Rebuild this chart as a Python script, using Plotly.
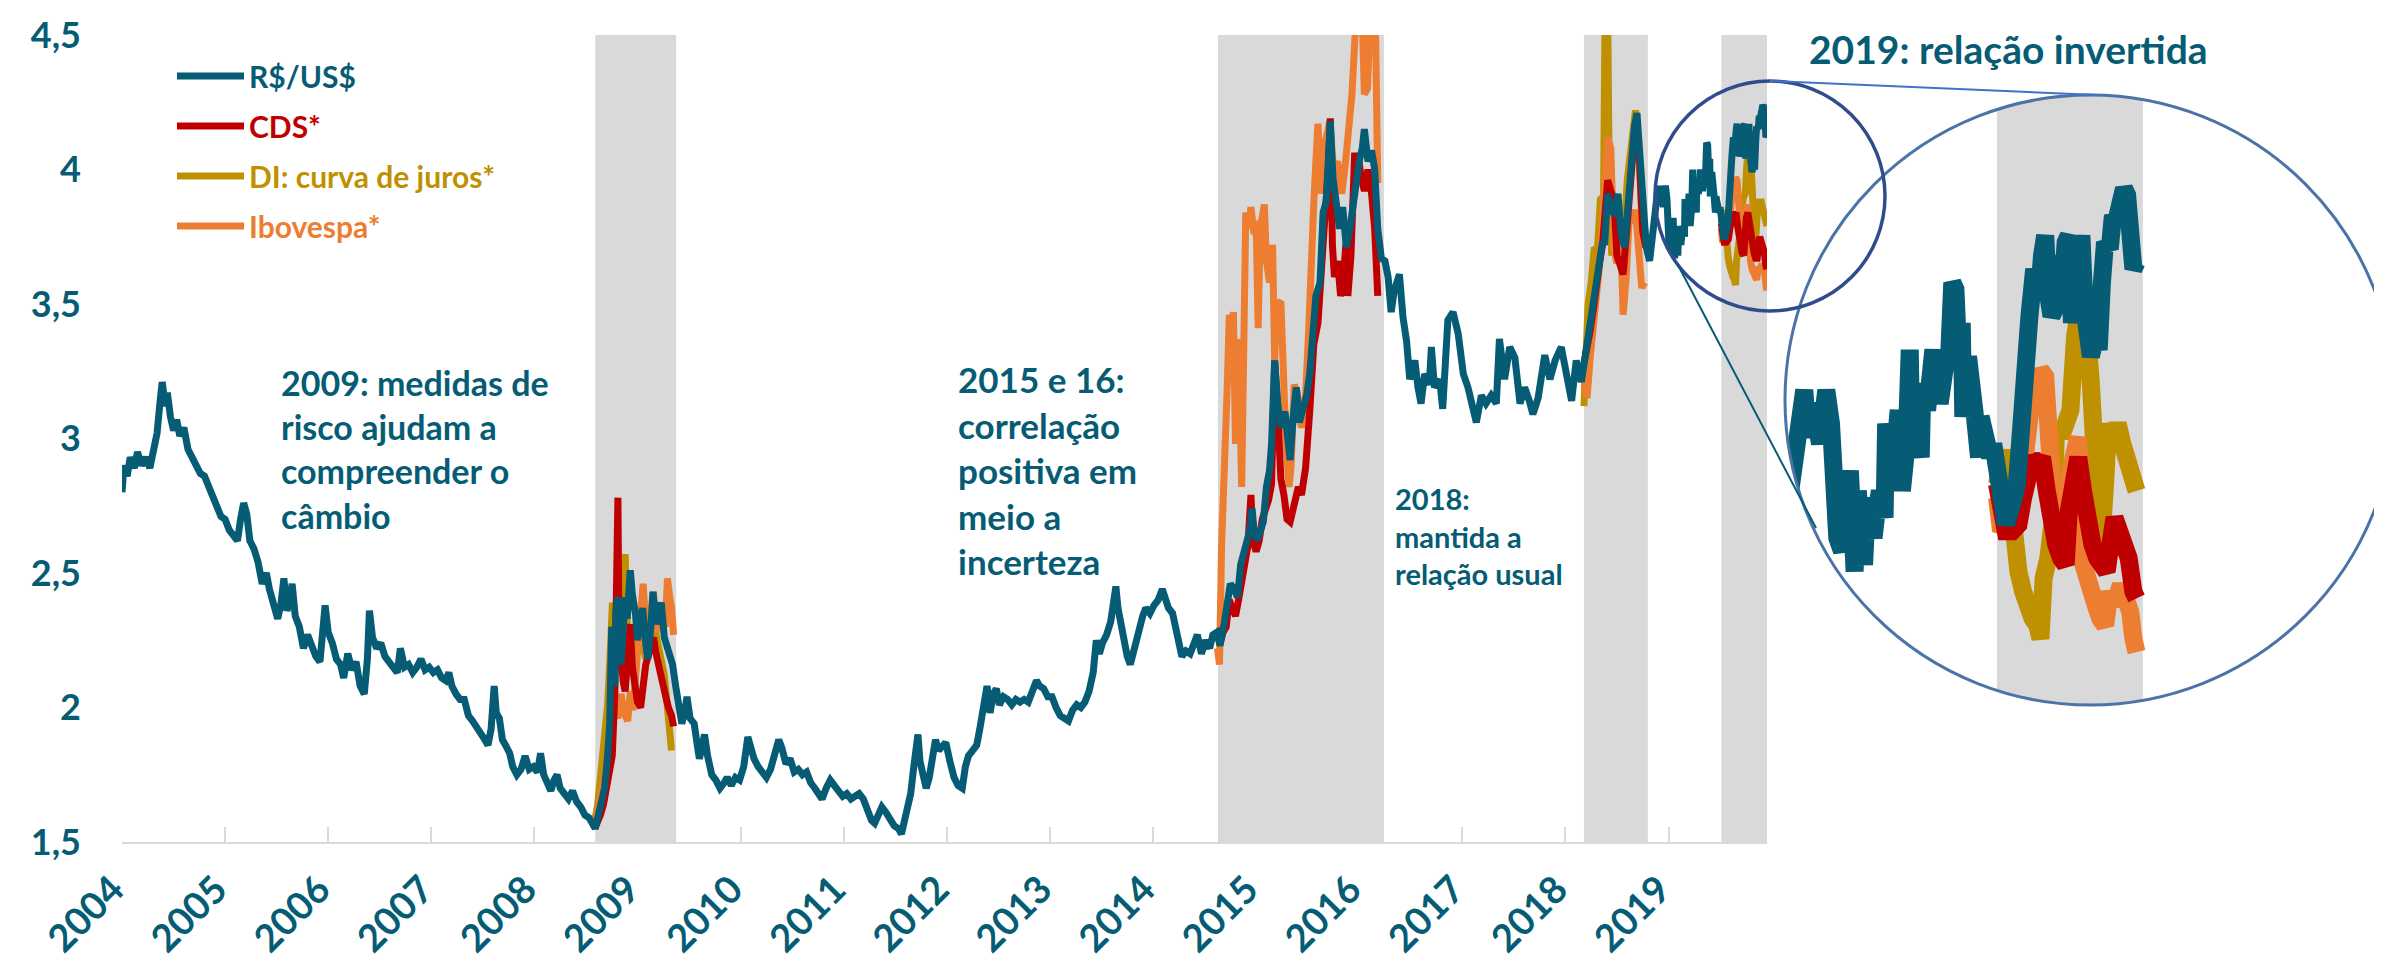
import numpy as np
import plotly.graph_objects as go

W, H = 2382, 967
TEAL = "#055c74"
RED = "#c00000"
GOLD = "#bf9000"
ORANGE = "#ed7d31"
BAND = "#d9d9d9"
FONT = "Lato"

# ---------------- data (decimal year, value) ----------------
usd = [
    (2004.00, 2.80), (2004.02, 2.90), (2004.05, 2.86), (2004.08, 2.93), (2004.12, 2.89), (2004.15, 2.95),
    (2004.19, 2.90), (2004.23, 2.93), (2004.27, 2.89), (2004.31, 2.96), (2004.34, 3.02), (2004.37, 3.14),
    (2004.39, 3.21), (2004.42, 3.12), (2004.44, 3.17), (2004.47, 3.08), (2004.50, 3.03), (2004.53, 3.07),
    (2004.56, 3.01), (2004.60, 3.04), (2004.64, 2.96), (2004.68, 2.93), (2004.72, 2.90), (2004.76, 2.87),
    (2004.80, 2.86), (2004.84, 2.82), (2004.88, 2.79), (2004.92, 2.74), (2004.96, 2.71),
    (2005.00, 2.70), (2005.04, 2.66), (2005.08, 2.64), (2005.12, 2.62), (2005.15, 2.70), (2005.18, 2.76),
    (2005.21, 2.72), (2005.24, 2.62), (2005.28, 2.59), (2005.32, 2.54), (2005.36, 2.46), (2005.40, 2.50),
    (2005.43, 2.44), (2005.47, 2.38), (2005.51, 2.33), (2005.54, 2.38), (2005.57, 2.48), (2005.60, 2.36),
    (2005.63, 2.40), (2005.65, 2.46), (2005.68, 2.34), (2005.72, 2.30), (2005.76, 2.22), (2005.80, 2.27),
    (2005.84, 2.23), (2005.88, 2.19), (2005.92, 2.17), (2005.95, 2.28), (2005.97, 2.38),
    (2006.00, 2.28), (2006.04, 2.24), (2006.08, 2.18), (2006.12, 2.16), (2006.15, 2.11), (2006.19, 2.20),
    (2006.23, 2.14), (2006.27, 2.17), (2006.31, 2.08), (2006.35, 2.05), (2006.38, 2.18), (2006.40, 2.36),
    (2006.43, 2.26), (2006.47, 2.22), (2006.51, 2.24), (2006.55, 2.19), (2006.59, 2.17), (2006.63, 2.15),
    (2006.67, 2.13), (2006.70, 2.22), (2006.74, 2.15), (2006.78, 2.16), (2006.82, 2.13), (2006.86, 2.15),
    (2006.90, 2.18), (2006.94, 2.14), (2006.98, 2.15),
    (2007.02, 2.13), (2007.06, 2.14), (2007.10, 2.11), (2007.14, 2.10), (2007.17, 2.13), (2007.20, 2.08),
    (2007.24, 2.05), (2007.28, 2.03), (2007.32, 2.03), (2007.36, 1.97), (2007.40, 1.95), (2007.44, 1.93),
    (2007.48, 1.90), (2007.52, 1.88), (2007.55, 1.86), (2007.58, 1.92), (2007.61, 2.08), (2007.63, 1.98),
    (2007.66, 1.96), (2007.69, 1.88), (2007.72, 1.86), (2007.76, 1.83), (2007.79, 1.78), (2007.83, 1.75),
    (2007.87, 1.77), (2007.91, 1.82), (2007.95, 1.77),
    (2007.99, 1.78), (2008.03, 1.76), (2008.06, 1.83), (2008.09, 1.75), (2008.12, 1.72), (2008.16, 1.69),
    (2008.19, 1.73), (2008.22, 1.75), (2008.25, 1.70), (2008.29, 1.68), (2008.33, 1.66), (2008.37, 1.69),
    (2008.41, 1.65), (2008.45, 1.63), (2008.49, 1.60), (2008.53, 1.59), (2008.57, 1.57), (2008.59, 1.55),
    (2008.62, 1.60), (2008.65, 1.64), (2008.68, 1.70), (2008.71, 1.82), (2008.73, 1.94), (2008.75, 2.30),
    (2008.76, 2.10), (2008.78, 2.08), (2008.79, 2.36), (2008.81, 2.41), (2008.82, 2.20), (2008.84, 2.16),
    (2008.86, 2.28), (2008.88, 2.41), (2008.90, 2.33), (2008.93, 2.51), (2008.95, 2.42), (2008.98, 2.35),
    (2009.00, 2.25), (2009.03, 2.32), (2009.05, 2.37), (2009.08, 2.24), (2009.10, 2.18), (2009.13, 2.30),
    (2009.15, 2.43), (2009.18, 2.31), (2009.21, 2.35), (2009.23, 2.39), (2009.26, 2.26), (2009.28, 2.23),
    (2009.31, 2.19), (2009.34, 2.16), (2009.37, 2.08), (2009.40, 2.02), (2009.43, 1.94), (2009.46, 1.99),
    (2009.48, 2.04), (2009.51, 1.96), (2009.55, 1.94), (2009.58, 1.86), (2009.60, 1.81), (2009.63, 1.86),
    (2009.65, 1.90), (2009.68, 1.82), (2009.72, 1.75), (2009.76, 1.73), (2009.80, 1.70), (2009.84, 1.72),
    (2009.87, 1.74), (2009.91, 1.71), (2009.95, 1.74),
    (2009.99, 1.73), (2010.03, 1.78), (2010.07, 1.89), (2010.10, 1.84), (2010.13, 1.81), (2010.17, 1.78),
    (2010.21, 1.76), (2010.25, 1.74), (2010.29, 1.77), (2010.33, 1.82), (2010.37, 1.88), (2010.40, 1.85),
    (2010.44, 1.79), (2010.48, 1.81), (2010.52, 1.76), (2010.56, 1.77), (2010.60, 1.75), (2010.64, 1.76),
    (2010.68, 1.72), (2010.72, 1.70), (2010.76, 1.67), (2010.79, 1.66), (2010.83, 1.70), (2010.87, 1.73),
    (2010.91, 1.71), (2010.95, 1.69),
    (2010.99, 1.67), (2011.03, 1.68), (2011.07, 1.66), (2011.11, 1.67), (2011.15, 1.68), (2011.19, 1.66),
    (2011.23, 1.62), (2011.27, 1.58), (2011.30, 1.57), (2011.34, 1.61), (2011.37, 1.63), (2011.41, 1.61),
    (2011.45, 1.58), (2011.49, 1.56), (2011.53, 1.55), (2011.56, 1.53), (2011.59, 1.58), (2011.62, 1.62),
    (2011.65, 1.68), (2011.68, 1.78), (2011.71, 1.86), (2011.72, 1.90), (2011.74, 1.80), (2011.77, 1.76),
    (2011.80, 1.70), (2011.83, 1.74), (2011.86, 1.80), (2011.89, 1.88), (2011.92, 1.84), (2011.96, 1.86),
    (2011.99, 1.87), (2012.03, 1.80), (2012.07, 1.74), (2012.11, 1.71), (2012.15, 1.70), (2012.18, 1.78),
    (2012.21, 1.82), (2012.25, 1.84), (2012.29, 1.86), (2012.32, 1.92), (2012.36, 2.02), (2012.39, 2.08),
    (2012.42, 1.98), (2012.45, 2.05), (2012.48, 2.07), (2012.51, 2.01), (2012.55, 2.04), (2012.59, 2.03),
    (2012.63, 2.01), (2012.67, 2.03), (2012.71, 2.02), (2012.75, 2.03), (2012.79, 2.02), (2012.83, 2.06),
    (2012.87, 2.10), (2012.90, 2.08), (2012.94, 2.07), (2012.98, 2.04),
    (2013.02, 2.04), (2013.06, 2.00), (2013.10, 1.97), (2013.14, 1.96), (2013.18, 1.95), (2013.22, 1.99),
    (2013.26, 2.01), (2013.30, 2.00), (2013.34, 2.02), (2013.38, 2.06), (2013.42, 2.13), (2013.45, 2.25),
    (2013.48, 2.20), (2013.51, 2.24), (2013.55, 2.27), (2013.59, 2.32), (2013.62, 2.40), (2013.64, 2.45),
    (2013.66, 2.37), (2013.69, 2.30), (2013.72, 2.23), (2013.75, 2.19), (2013.78, 2.16), (2013.81, 2.21),
    (2013.84, 2.26), (2013.87, 2.31), (2013.90, 2.34), (2013.93, 2.37), (2013.97, 2.35),
    (2014.01, 2.38), (2014.05, 2.40), (2014.09, 2.44), (2014.12, 2.41), (2014.15, 2.37), (2014.19, 2.35),
    (2014.22, 2.29), (2014.25, 2.23), (2014.28, 2.19), (2014.32, 2.21), (2014.36, 2.20), (2014.40, 2.24),
    (2014.43, 2.27), (2014.47, 2.20), (2014.51, 2.25), (2014.55, 2.22), (2014.58, 2.27), (2014.62, 2.28),
    (2014.65, 2.23), (2014.69, 2.31), (2014.72, 2.38), (2014.75, 2.46), (2014.79, 2.44), (2014.82, 2.41),
    (2014.85, 2.53), (2014.88, 2.58), (2014.91, 2.61), (2014.94, 2.66), (2014.96, 2.74), (2014.98, 2.66),
    (2015.01, 2.62), (2015.04, 2.66), (2015.07, 2.69), (2015.10, 2.82), (2015.13, 2.88), (2015.15, 2.98),
    (2015.18, 3.29), (2015.21, 3.13), (2015.24, 3.04), (2015.28, 3.10), (2015.31, 2.96), (2015.33, 2.92),
    (2015.36, 3.08), (2015.39, 3.19), (2015.42, 3.06), (2015.45, 3.11), (2015.49, 3.16), (2015.52, 3.24),
    (2015.55, 3.41), (2015.58, 3.53), (2015.62, 3.58), (2015.65, 3.84), (2015.68, 3.88), (2015.70, 4.05),
    (2015.72, 4.18), (2015.745, 3.97), (2015.78, 3.88), (2015.81, 3.78), (2015.84, 3.86), (2015.875, 3.71),
    (2015.91, 3.78), (2015.94, 3.86), (2015.97, 3.97),
    (2016.00, 4.03), (2016.03, 4.08), (2016.05, 4.15), (2016.085, 4.03), (2016.12, 4.07), (2016.15, 4.00),
    (2016.18, 3.78), (2016.215, 3.67), (2016.25, 3.66), (2016.28, 3.60), (2016.31, 3.47), (2016.34, 3.55),
    (2016.39, 3.61), (2016.425, 3.45), (2016.46, 3.36), (2016.49, 3.22), (2016.54, 3.29), (2016.57, 3.19),
    (2016.60, 3.13), (2016.635, 3.24), (2016.68, 3.20), (2016.70, 3.34), (2016.73, 3.19), (2016.78, 3.22),
    (2016.81, 3.11), (2016.86, 3.44), (2016.91, 3.47), (2016.96, 3.39),
    (2017.01, 3.24), (2017.055, 3.19), (2017.10, 3.10), (2017.136, 3.06), (2017.185, 3.16), (2017.23, 3.13),
    (2017.28, 3.16), (2017.33, 3.13), (2017.36, 3.37), (2017.41, 3.22), (2017.46, 3.34), (2017.51, 3.30),
    (2017.56, 3.13), (2017.605, 3.19), (2017.65, 3.14), (2017.685, 3.09), (2017.735, 3.15), (2017.80, 3.31),
    (2017.85, 3.22), (2017.90, 3.29), (2017.96, 3.34),
    (2018.01, 3.22), (2018.06, 3.14), (2018.105, 3.29), (2018.155, 3.21), (2018.19, 3.30), (2018.235, 3.42),
    (2018.284, 3.52), (2018.33, 3.66), (2018.36, 3.73), (2018.38, 3.72), (2018.41, 3.91), (2018.445, 3.85),
    (2018.48, 3.83), (2018.51, 3.91), (2018.54, 3.76), (2018.575, 3.71), (2018.607, 3.89), (2018.64, 4.08),
    (2018.67, 4.16), (2018.694, 4.21), (2018.72, 4.08), (2018.75, 3.89), (2018.785, 3.71), (2018.817, 3.66),
    (2018.85, 3.76), (2018.886, 3.88), (2018.90, 3.94), (2018.912, 3.87), (2018.93, 3.92), (2018.95, 3.86),
    (2018.97, 3.94), (2018.985, 3.89), (2018.995, 3.78),
    (2019.005, 3.72), (2019.02, 3.70), (2019.035, 3.75), (2019.045, 3.82), (2019.055, 3.72), (2019.06, 3.67),
    (2019.07, 3.79), (2019.08, 3.72), (2019.09, 3.68), (2019.10, 3.78), (2019.11, 3.74), (2019.12, 3.72),
    (2019.13, 3.76), (2019.14, 3.79), (2019.155, 3.75), (2019.16, 3.89), (2019.175, 3.84), (2019.19, 3.86),
    (2019.20, 3.91), (2019.21, 3.79), (2019.225, 3.86), (2019.235, 4.00), (2019.24, 3.86), (2019.255, 3.88),
    (2019.27, 3.84), (2019.275, 3.95), (2019.29, 3.91), (2019.30, 3.94), (2019.31, 4.00), (2019.32, 3.95),
    (2019.33, 3.92), (2019.345, 3.97), (2019.36, 3.99), (2019.37, 4.10), (2019.38, 4.09), (2019.39, 3.98),
    (2019.40, 4.04), (2019.405, 3.90), (2019.42, 3.99), (2019.44, 3.91), (2019.455, 3.84), (2019.46, 3.90),
    (2019.475, 3.87), (2019.49, 3.84), (2019.50, 3.86), (2019.515, 3.80), (2019.525, 3.76), (2019.54, 3.74),
    (2019.56, 3.77), (2019.575, 3.80), (2019.585, 3.86), (2019.595, 3.98), (2019.605, 3.94), (2019.615, 4.05),
    (2019.63, 4.12), (2019.645, 4.08), (2019.655, 4.14), (2019.665, 4.17), (2019.675, 4.08), (2019.685, 4.05),
    (2019.695, 4.06), (2019.705, 4.14), (2019.715, 4.06), (2019.73, 4.16), (2019.74, 4.17), (2019.75, 4.04),
    (2019.76, 4.08), (2019.77, 4.16), (2019.78, 4.17), (2019.79, 4.06), (2019.80, 4.00), (2019.81, 3.99),
    (2019.825, 4.02), (2019.835, 4.00), (2019.845, 4.10), (2019.855, 4.16), (2019.87, 4.15), (2019.88, 4.20),
    (2019.89, 4.19), (2019.905, 4.22), (2019.915, 4.24), (2019.925, 4.23), (2019.935, 4.19), (2019.945, 4.12),
    (2019.955, 4.13),
]

cds_2009 = [(2008.585, 1.55), (2008.61, 1.57), (2008.64, 1.60), (2008.67, 1.64), (2008.70, 1.70), (2008.73, 1.76),
            (2008.755, 1.82), (2008.78, 2.05), (2008.80, 2.50), (2008.81, 2.78), (2008.82, 2.30), (2008.84, 2.18),
            (2008.86, 2.10), (2008.88, 2.06), (2008.90, 2.16), (2008.93, 2.31), (2008.95, 2.15), (2008.98, 2.06),
            (2009.00, 2.02), (2009.03, 2.00), (2009.06, 2.10), (2009.08, 2.16), (2009.11, 2.20), (2009.13, 2.23),
            (2009.155, 2.26), (2009.18, 2.20), (2009.20, 2.16), (2009.23, 2.10), (2009.25, 2.06), (2009.28, 2.03),
            (2009.30, 2.00), (2009.33, 1.97), (2009.35, 1.93)]
cds_2015 = [(2014.625, 2.27), (2014.65, 2.24), (2014.68, 2.28), (2014.71, 2.30), (2014.74, 2.40), (2014.77, 2.36),
            (2014.80, 2.34), (2014.83, 2.40), (2014.86, 2.46), (2014.89, 2.52), (2014.92, 2.60), (2014.95, 2.79),
            (2014.97, 2.62), (2015.00, 2.58), (2015.03, 2.62), (2015.06, 2.70), (2015.09, 2.73), (2015.12, 2.77),
            (2015.15, 2.83), (2015.18, 3.29), (2015.21, 3.10), (2015.24, 2.85), (2015.27, 2.79), (2015.30, 2.70),
            (2015.33, 2.69), (2015.37, 2.77), (2015.41, 2.82), (2015.44, 2.79), (2015.48, 2.89), (2015.52, 3.10),
            (2015.56, 3.35), (2015.60, 3.43), (2015.63, 3.66), (2015.66, 3.78), (2015.70, 4.00), (2015.72, 4.19),
            (2015.74, 3.72), (2015.76, 3.60), (2015.79, 3.66), (2015.82, 3.53), (2015.84, 3.56), (2015.87, 3.72),
            (2015.89, 3.53), (2015.92, 3.68), (2015.955, 4.05), (2015.99, 4.05), (2016.02, 3.97), (2016.05, 3.92),
            (2016.085, 4.00), (2016.12, 3.91), (2016.15, 3.78), (2016.18, 3.53)]
cds_2018 = [(2018.18, 3.28), (2018.21, 3.33), (2018.24, 3.40), (2018.27, 3.48), (2018.30, 3.58), (2018.33, 3.65),
            (2018.36, 3.72), (2018.39, 3.90), (2018.41, 3.96), (2018.44, 3.92), (2018.47, 3.89), (2018.50, 3.68),
            (2018.53, 3.64), (2018.56, 3.61), (2018.59, 3.75), (2018.62, 3.90), (2018.65, 3.99), (2018.68, 4.18),
            (2018.70, 4.10), (2018.72, 4.03), (2018.75, 3.77), (2018.78, 3.71)]
cds_2019 = [(2019.512, 3.80), (2019.525, 3.75), (2019.54, 3.73), (2019.56, 3.73), (2019.58, 3.74), (2019.595, 3.78),
            (2019.61, 3.82), (2019.625, 3.84), (2019.64, 3.83), (2019.655, 3.84), (2019.67, 3.79), (2019.685, 3.74),
            (2019.70, 3.71), (2019.715, 3.69), (2019.73, 3.68), (2019.74, 3.76), (2019.755, 3.82), (2019.77, 3.84),
            (2019.785, 3.79), (2019.80, 3.74), (2019.815, 3.71), (2019.83, 3.69), (2019.845, 3.67), (2019.86, 3.67),
            (2019.875, 3.72), (2019.885, 3.75), (2019.90, 3.73), (2019.915, 3.71), (2019.93, 3.69), (2019.945, 3.64),
            (2019.955, 3.63)]

di_2009 = [(2008.585, 1.58), (2008.61, 1.63), (2008.635, 1.72), (2008.66, 1.80), (2008.685, 1.91), (2008.71, 2.01),
           (2008.735, 2.20), (2008.757, 2.39), (2008.78, 2.30), (2008.81, 2.35), (2008.84, 2.45), (2008.86, 2.40),
           (2008.88, 2.57), (2008.90, 2.31), (2008.93, 2.20), (2008.955, 2.13), (2008.98, 2.20), (2009.03, 2.28),
           (2009.06, 2.22), (2009.08, 2.18), (2009.11, 2.24), (2009.13, 2.28), (2009.16, 2.33), (2009.18, 2.27),
           (2009.21, 2.22), (2009.23, 2.18), (2009.26, 2.12), (2009.28, 2.04), (2009.31, 1.95), (2009.33, 1.84)]
di_2018 = [(2018.18, 3.12), (2018.20, 3.30), (2018.22, 3.50), (2018.25, 3.58), (2018.28, 3.71), (2018.31, 3.70),
           (2018.34, 3.89), (2018.37, 3.90), (2018.385, 4.60), (2018.41, 4.60), (2018.425, 3.95), (2018.45, 3.68),
           (2018.48, 3.75), (2018.50, 3.83), (2018.53, 3.71), (2018.56, 3.70), (2018.60, 3.96), (2018.63, 4.08),
           (2018.66, 4.18), (2018.68, 4.22), (2018.71, 4.08), (2018.74, 3.83), (2018.77, 3.77)]
di_2019 = [(2019.512, 3.80), (2019.525, 3.83), (2019.535, 3.85), (2019.55, 3.80), (2019.565, 3.70), (2019.58, 3.67),
           (2019.595, 3.64), (2019.61, 3.61), (2019.625, 3.60), (2019.64, 3.59), (2019.65, 3.57), (2019.66, 3.66),
           (2019.675, 3.69), (2019.69, 3.75), (2019.70, 3.89), (2019.715, 3.87), (2019.73, 3.90), (2019.745, 3.91),
           (2019.76, 4.02), (2019.77, 4.05), (2019.785, 4.03), (2019.80, 4.01), (2019.81, 3.95), (2019.82, 3.84),
           (2019.83, 3.72), (2019.84, 3.69), (2019.855, 3.80), (2019.865, 3.89), (2019.88, 3.86), (2019.895, 3.89),
           (2019.91, 3.86), (2019.925, 3.83), (2019.94, 3.82), (2019.955, 3.79)]

ibov_2009 = [(2008.585, 1.56), (2008.61, 1.60), (2008.635, 1.65), (2008.66, 1.70), (2008.685, 1.76), (2008.71, 1.81),
             (2008.735, 1.95), (2008.76, 2.06), (2008.78, 2.00), (2008.81, 1.96), (2008.84, 2.05), (2008.87, 1.98),
             (2008.905, 1.95), (2008.93, 2.06), (2008.955, 1.99), (2008.98, 2.10), (2009.01, 2.25), (2009.04, 2.38),
             (2009.055, 2.46), (2009.08, 2.30), (2009.105, 2.23), (2009.13, 2.35), (2009.154, 2.43), (2009.18, 2.28),
             (2009.21, 2.33), (2009.25, 2.38), (2009.27, 2.30), (2009.29, 2.48), (2009.31, 2.42), (2009.33, 2.37),
             (2009.35, 2.27)]
ibov_2015 = [(2014.625, 2.22), (2014.645, 2.16), (2014.665, 2.60), (2014.68, 2.73), (2014.70, 2.95), (2014.72, 3.19),
             (2014.74, 3.46), (2014.76, 3.40), (2014.78, 3.47), (2014.80, 2.98), (2014.82, 3.37), (2014.84, 3.19),
             (2014.86, 2.82), (2014.88, 3.30), (2014.90, 3.84), (2014.93, 3.78), (2014.95, 3.86), (2014.98, 3.76),
             (2015.00, 3.81), (2015.02, 3.41), (2015.04, 3.78), (2015.08, 3.87), (2015.10, 3.66), (2015.13, 3.58),
             (2015.16, 3.72), (2015.18, 3.29), (2015.20, 3.50), (2015.24, 3.51), (2015.27, 3.04), (2015.29, 2.98),
             (2015.32, 2.82), (2015.34, 2.90), (2015.37, 3.20), (2015.40, 3.17), (2015.44, 3.04), (2015.48, 3.16),
             (2015.51, 3.40), (2015.53, 3.66), (2015.56, 3.88), (2015.58, 4.03), (2015.60, 4.17), (2015.63, 3.91),
             (2015.665, 4.09), (2015.715, 4.18), (2015.75, 4.00), (2015.79, 4.03), (2015.83, 3.91), (2015.86, 4.00),
             (2015.90, 4.15), (2015.93, 4.28), (2015.96, 4.50), (2015.99, 4.60), (2016.02, 4.70), (2016.05, 4.28),
             (2016.08, 4.30), (2016.11, 4.60), (2016.14, 4.60), (2016.16, 4.48), (2016.18, 3.95)]
ibov_2018 = [(2018.18, 3.22), (2018.21, 3.15), (2018.24, 3.30), (2018.27, 3.40), (2018.30, 3.50), (2018.33, 3.64),
             (2018.36, 3.80), (2018.39, 4.05), (2018.41, 4.12), (2018.44, 4.08), (2018.47, 3.71), (2018.50, 3.65),
             (2018.53, 3.83), (2018.56, 3.46), (2018.59, 3.60), (2018.62, 3.83), (2018.65, 3.80), (2018.68, 3.85),
             (2018.71, 3.65), (2018.74, 3.56), (2018.77, 3.58)]
ibov_2019 = [(2019.512, 3.78), (2019.525, 3.73), (2019.54, 3.74), (2019.56, 3.75), (2019.575, 3.76), (2019.59, 3.80),
             (2019.605, 3.89), (2019.62, 3.92), (2019.635, 3.93), (2019.65, 3.97), (2019.665, 3.96), (2019.675, 3.88),
             (2019.685, 3.79), (2019.695, 3.74), (2019.71, 3.72), (2019.725, 3.78), (2019.74, 3.80), (2019.755, 3.84),
             (2019.77, 3.87), (2019.78, 3.69), (2019.795, 3.66), (2019.81, 3.63), (2019.825, 3.62), (2019.84, 3.60),
             (2019.855, 3.59), (2019.87, 3.64), (2019.885, 3.62), (2019.905, 3.65), (2019.92, 3.63), (2019.935, 3.61),
             (2019.945, 3.57), (2019.955, 3.55)]

# shaded periods (decimal years)
bands = [(2008.59, 2009.375), (2014.63, 2016.24), (2018.18, 2018.80), (2019.512, 2019.975)]
inset_band = (2019.512, 2019.975)

years = list(range(2004, 2020))
year_labels = [str(y) for y in years]
y_ticks = [1.5, 2, 2.5, 3, 3.5, 4, 4.5]
y_labels = ["1,5", "2", "2,5", "3", "3,5", "4", "4,5"]

series_names = {
    "usd": "R$/US$",
    "cds": "CDS*",
    "di": "DI: curva de juros*",
    "ibov": "Ibovespa*",
}


def join(*segs):
    xs, ys = [], []
    for s in segs:
        if xs:
            xs.append(None)
            ys.append(None)
        xs += [p[0] for p in s]
        ys += [p[1] for p in s]
    return xs, ys


usd_x, usd_y = join(usd)
cds_x, cds_y = join(cds_2009, cds_2015, cds_2018, cds_2019)
di_x, di_y = join(di_2009, di_2018, di_2019)
ibov_x, ibov_y = join(ibov_2009, ibov_2015, ibov_2018, ibov_2019)


def px(x):
    return x / W


def py(y):
    return 1 - y / H


fig = go.Figure()

traces = [
    ("di", di_x, di_y, GOLD, 3),
    ("ibov", ibov_x, ibov_y, ORANGE, 4),
    ("cds", cds_x, cds_y, RED, 2),
    ("usd", usd_x, usd_y, TEAL, 1),
]
for key, xs, ys, col, rank in traces:
    fig.add_trace(go.Scatter(
        x=xs, y=ys, mode="lines", line=dict(color=col, width=7),
        name=f'<span style="color:{col}">{series_names[key]}</span>',
        legendgroup=key, legendrank=rank, showlegend=True,
        xaxis="x", yaxis="y", hoverinfo="skip", connectgaps=False,
    ))
for key, xs, ys, col, rank in traces:
    fig.add_trace(go.Scatter(
        x=xs, y=ys, mode="lines", line=dict(color=col, width=18),
        name=series_names[key], legendgroup=key, showlegend=False,
        xaxis="x2", yaxis="y2", hoverinfo="skip", connectgaps=False,
    ))

# ---------------- geometry (pixels) ----------------
PLOT_L, PLOT_R, PLOT_T, PLOT_B = 114, 1759, 27, 834
X_END = 2004 + (PLOT_R - PLOT_L) / 103.1
IN_L, IN_R, IN_T, IN_B = 1777, 2382, 87, 697
IN_PX_PER_YR = 315.0
IN_X0 = 2019.512 - (1989 - IN_L) / IN_PX_PER_YR
IN_X1 = IN_X0 + (IN_R - IN_L) / IN_PX_PER_YR
IN_PX_PER_UNIT = 672.0
IN_Y1 = 4.26 + (167 - IN_T) / IN_PX_PER_UNIT
IN_Y0 = 4.26 - (IN_B - 167) / IN_PX_PER_UNIT

BIG_C = (2082, 392)
BIG_R = 305
SMALL_C = (1762, 188)
SMALL_R = 115

shapes = []
for b0, b1 in bands:
    shapes.append(dict(type="rect", xref="x", yref="y", x0=b0, x1=b1, y0=1.5, y1=4.5,
                       fillcolor=BAND, line=dict(width=0), layer="below"))
shapes.append(dict(type="rect", xref="x2", yref="y2 domain", x0=inset_band[0], x1=inset_band[1],
                   y0=0, y1=1, fillcolor=BAND, line=dict(width=0), layer="below"))

# white mask around the magnifier circle
th = np.linspace(0, 2 * np.pi, 241)
circ = " L ".join(f"{px(BIG_C[0] + BIG_R * np.cos(t)):.5f},{py(BIG_C[1] + BIG_R * np.sin(t)):.5f}" for t in th)
rx0, rx1, ry0, ry1 = px(1768), 1.01, py(706), py(80)
mask_path = (f"M {rx0},{ry0} L {rx1},{ry0} L {rx1},{ry1} L {rx0},{ry1} Z "
             f"M {circ} Z")
shapes.append(dict(type="path", xref="paper", yref="paper", path=mask_path,
                   fillcolor="white", line=dict(width=0), layer="above", fillrule="evenodd"))

# magnifier outlines and connectors
shapes.append(dict(type="circle", xref="paper", yref="paper",
                   x0=px(BIG_C[0] - BIG_R), x1=px(BIG_C[0] + BIG_R),
                   y0=py(BIG_C[1] + BIG_R), y1=py(BIG_C[1] - BIG_R),
                   line=dict(color="#4a74a8", width=3), layer="above"))
shapes.append(dict(type="circle", xref="paper", yref="paper",
                   x0=px(SMALL_C[0] - SMALL_R), x1=px(SMALL_C[0] + SMALL_R),
                   y0=py(SMALL_C[1] + SMALL_R), y1=py(SMALL_C[1] - SMALL_R),
                   line=dict(color="#2f4d8c", width=3.5), layer="above"))
shapes.append(dict(type="line", xref="paper", yref="paper",
                   x0=px(1762), y0=py(73), x1=px(2090), y1=py(87),
                   line=dict(color="#4472c4", width=2), layer="above"))
shapes.append(dict(type="line", xref="paper", yref="paper",
                   x0=px(1670), y0=py(257), x1=px(1808), y1=py(520),
                   line=dict(color=TEAL, width=2), layer="above"))


def note(text, x, y, size):
    return dict(text=text, xref="paper", yref="paper", x=px(x), y=py(y), xanchor="left", yanchor="top",
                align="left", showarrow=False,
                font=dict(family=FONT, size=size, color=TEAL, weight="bold"))


annotations = [
    note("2009: medidas de<br>risco ajudam a<br>compreender o<br>câmbio", 271, 352, 34),
    note("2015 e 16:<br>correlação<br>positiva em<br>meio a<br>incerteza", 948, 348, 35),
    note("2018:<br>mantida a<br>relação usual", 1385, 471, 29),
    note("2019: relação invertida", 1799, 16, 39),
]

fig.update_layout(
    width=W, height=H,
    margin=dict(l=0, r=0, t=0, b=0, autoexpand=False),
    paper_bgcolor="white", plot_bgcolor="rgba(0,0,0,0)",
    showlegend=True,
    legend=dict(x=px(164), y=py(42), xanchor="left", yanchor="top",
                font=dict(family=FONT, size=30, color=TEAL, weight="bold"),
                bgcolor="rgba(0,0,0,0)", itemwidth=67, tracegroupgap=8,
                traceorder="grouped", itemclick=False, itemdoubleclick=False),
    xaxis=dict(domain=[px(PLOT_L), px(PLOT_R)], range=[2004, X_END], anchor="y", automargin=False,
               tickvals=years, ticktext=year_labels, tickangle=-45,
               tickfont=dict(family=FONT, size=38, color=TEAL, weight="bold"),
               showline=True, linecolor="#d9d9d9", linewidth=2,
               ticks="inside", ticklen=15, tickwidth=2, tickcolor="#d9d9d9",
               showgrid=False, zeroline=False, ticklabelstandoff=8, ticklabelshift=-9),
    yaxis=dict(domain=[py(PLOT_B), py(PLOT_T)], range=[1.5, 4.5], anchor="x", automargin=False,
               tickvals=y_ticks, ticktext=y_labels,
               tickfont=dict(family=FONT, size=36, color=TEAL, weight="bold"),
               showline=False, showgrid=False, zeroline=False, ticks="",
               ticklabelstandoff=40),
    xaxis2=dict(domain=[px(IN_L), px(IN_R)], range=[IN_X0, IN_X1], anchor="y2", visible=False,
                automargin=False),
    yaxis2=dict(domain=[py(IN_B), py(IN_T)], range=[IN_Y0, IN_Y1], anchor="x2", visible=False,
                automargin=False),
    shapes=shapes,
    annotations=annotations,
)

fig.write_html("out.html")
